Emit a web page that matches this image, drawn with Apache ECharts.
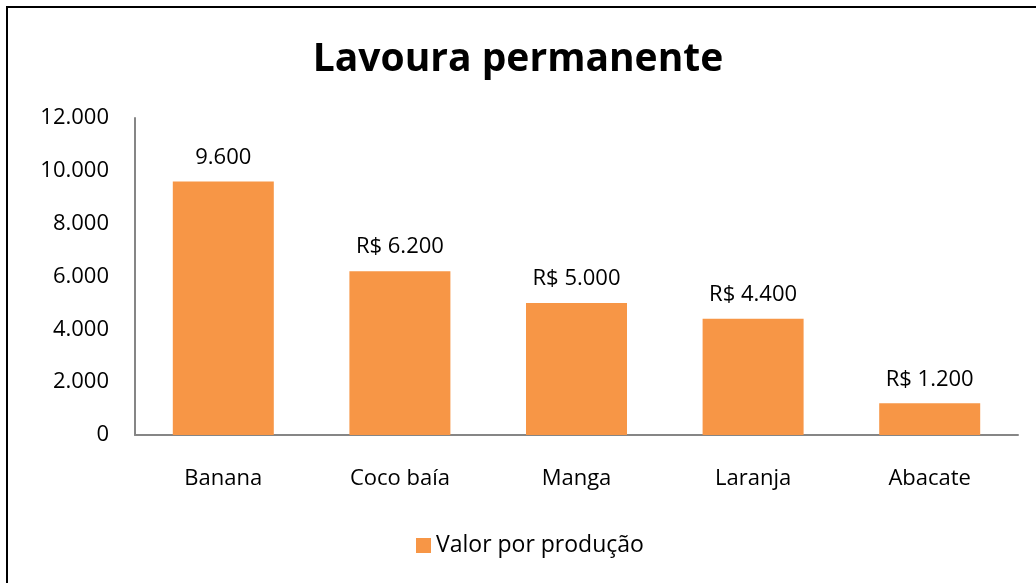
<!DOCTYPE html>
<html>
<head>
<meta charset="utf-8">
<script src="https://cdn.jsdelivr.net/npm/echarts@6/dist/echarts.min.js"></script>
<style>
html,body{margin:0;padding:0;background:#fff;width:1036px;height:583px;overflow:hidden;}
#frame{position:absolute;left:6px;top:6px;width:1030px;height:577px;border-top:2px solid #000;border-left:2px solid #000;box-sizing:border-box;}
#chart{position:absolute;left:0;top:0;width:1036px;height:583px;}
</style>
</head>
<body>
<div id="frame"></div>
<div id="chart"></div>
<script>
var titleText = 'Lavoura permanente';
var seriesName = 'Valor por produção';
var categories = ['Banana', 'Coco baía', 'Manga', 'Laranja', 'Abacate'];
var values = [9600, 6200, 5000, 4400, 1200];
var labelPrefixes = ['', 'R$ ', 'R$ ', 'R$ ', 'R$ '];

function fmt(v){ return String(v).replace(/\B(?=(\d{3})+(?!\d))/g, '.'); }

var font = '"Open Sans", sans-serif';
var chart = echarts.init(document.getElementById('chart'), null, {renderer:'canvas'});
chart.setOption({
  animation:false,
  backgroundColor:'transparent',
  textStyle:{fontFamily:font},
  title:{text:titleText,left:'center',top:35,textStyle:{fontFamily:font,fontSize:39,fontWeight:'bold',color:'#000'}},
  grid:{left:135,right:18,top:118,bottom:148},
  legend:{bottom:21,left:411,itemWidth:15,itemHeight:15,itemGap:6,icon:'rect',
    textStyle:{fontFamily:font,fontSize:23,color:'#000'},data:[seriesName]},
  xAxis:{type:'category',data:categories,
    axisLine:{lineStyle:{color:'#868686',width:2}},axisTick:{show:false},
    axisLabel:{fontFamily:font,fontSize:22,color:'#000',margin:33}},
  yAxis:{type:'value',min:0,max:12000,interval:2000,
    axisLine:{show:true,lineStyle:{color:'#868686',width:2}},axisTick:{show:false},splitLine:{show:false},
    axisLabel:{fontFamily:font,fontSize:22,color:'#000',margin:26,formatter:function(v){return fmt(v);}}},
  series:[{name:seriesName,type:'bar',data:values,barWidth:101,
    itemStyle:{color:'#F79646'},
    label:{show:true,position:'top',distance:13,fontFamily:font,fontSize:22,color:'#000',
      formatter:function(p){return labelPrefixes[p.dataIndex]+fmt(p.value);}}}]
});
</script>
</body>
</html>
